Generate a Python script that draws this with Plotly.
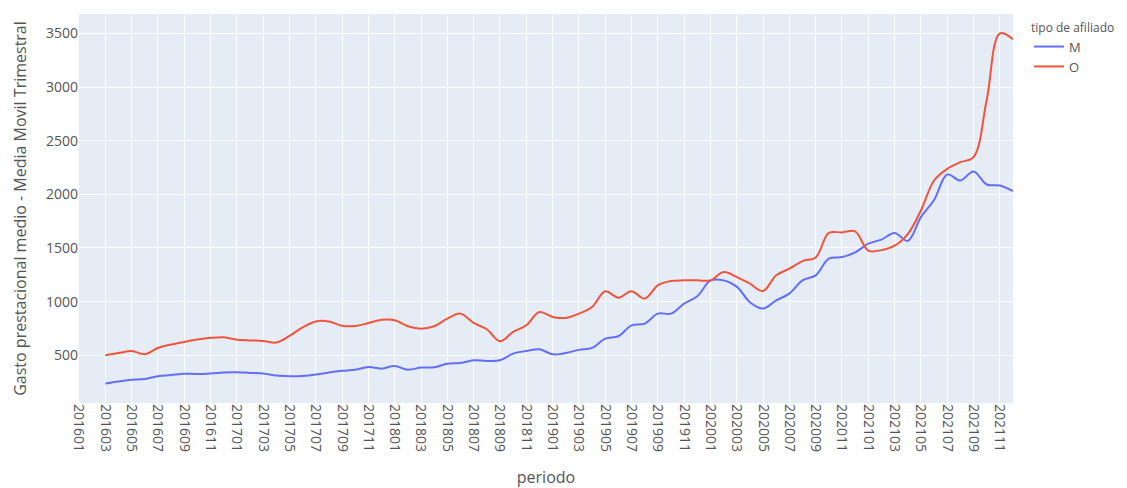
import plotly.graph_objects as go

periodos = [f"{y}{m:02d}" for y in range(2016, 2022) for m in range(1, 13)]

gasto_M = [None, None,
           236, 255, 272, 278, 305, 315, 328, 325,
           330, 340, 342, 335, 330, 310, 305, 307, 320, 340,
           355, 365, 390, 375, 400, 365, 385, 388, 420, 428,
           453, 447, 453, 515, 540, 556, 509, 520, 550, 568,
           655, 677, 779, 795, 888, 888, 981, 1050, 1195, 1198,
           1140, 994, 935, 1012, 1074, 1198, 1245, 1400, 1415, 1459,
           1540, 1578, 1640, 1566, 1788, 1947, 2185, 2129, 2213, 2092,
           2083, 2030]

gasto_O = [None, None,
           500, 520, 540, 509, 568, 600, 624, 646,
           662, 668, 645, 638, 633, 618, 680, 760, 815, 815,
           775, 772, 800, 830, 826, 770, 748, 770, 841, 888,
           801, 742, 630, 717, 779, 903, 857, 848, 888, 950,
           1096, 1037, 1096, 1028, 1152, 1192, 1198, 1198, 1198, 1276,
           1229, 1167, 1099, 1245, 1307, 1378, 1412, 1640, 1645, 1655,
           1475, 1480, 1521, 1630, 1850, 2129, 2238, 2300, 2347, 2880,
           3500, 3445]

series = {"M": (gasto_M, "#636efa"), "O": (gasto_O, "#EF553B")}

fig = go.Figure()
for name, (vals, color) in series.items():
    fig.add_trace(go.Scatter(
        x=periodos, y=vals, mode="lines", name=name,
        line=dict(color=color, width=2, shape="spline"),
        connectgaps=False,
    ))

fig.update_layout(
    template="plotly",
    width=1119, height=480,
    margin=dict(l=71, r=114, t=6, b=85, autoexpand=False),
    font=dict(color="#555555", size=13),
    legend=dict(title=dict(text="tipo de afiliado", font=dict(size=12)),
                font=dict(size=13),
                xref="container", yref="container",
                x=1021 / 1119, y=1 - 8 / 480,
                xanchor="left", yanchor="top"),
    xaxis=dict(title=dict(text="periodo", font=dict(size=16), standoff=25),
               type="category", tickangle=90, dtick=2, automargin=False,
               tickfont=dict(size=14)),
    yaxis=dict(title=dict(text="Gasto prestacional medio - Media Movil Trimestral",
                          font=dict(size=16)),
               automargin=False, tickfont=dict(size=14)),
)

fig.write_html("out.html")
